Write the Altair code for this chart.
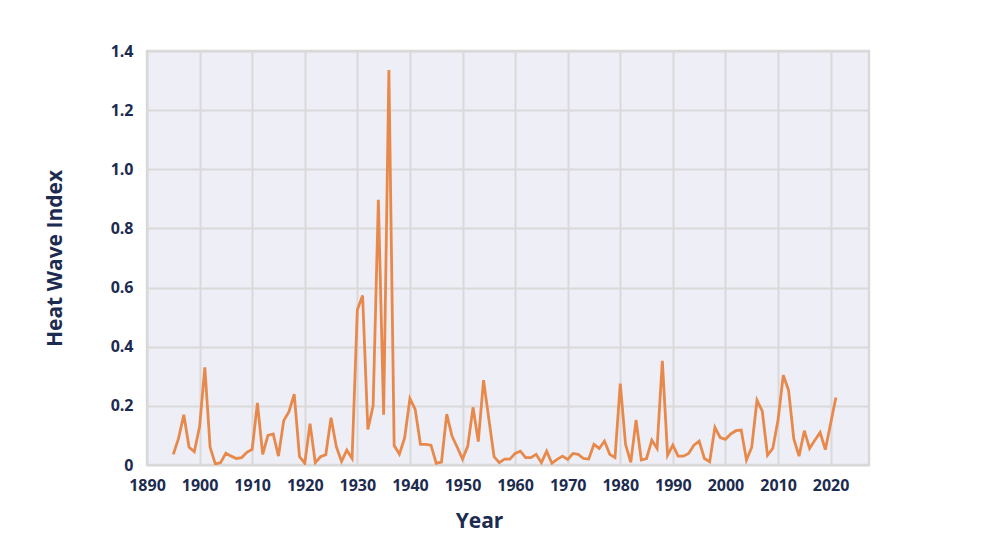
import altair as alt
import pandas as pd

years = list(range(1895, 2022))
heat_wave_index = [
    # 1895-1909
    0.036, 0.09, 0.17, 0.06, 0.045, 0.13, 0.33, 0.06, 0.003, 0.008,
    0.04, 0.03, 0.022, 0.025, 0.043,
    # 1910-1919
    0.053, 0.21, 0.036, 0.10, 0.105, 0.03, 0.15, 0.18, 0.24, 0.028,
    # 1920-1929
    0.006, 0.14, 0.008, 0.028, 0.035, 0.16, 0.062, 0.012, 0.05, 0.022,
    # 1930-1939
    0.525, 0.573, 0.12, 0.20, 0.897, 0.17, 1.336, 0.066, 0.037, 0.092,
    # 1940-1949
    0.225, 0.188, 0.07, 0.07, 0.067, 0.006, 0.01, 0.172, 0.098, 0.06,
    # 1950-1959
    0.02, 0.064, 0.195, 0.079, 0.287, 0.157, 0.028, 0.008, 0.02, 0.02,
    # 1960-1969
    0.039, 0.047, 0.025, 0.025, 0.036, 0.008, 0.047, 0.006, 0.019, 0.03,
    # 1970-1979
    0.019, 0.039, 0.036, 0.022, 0.02, 0.07, 0.056, 0.081, 0.036, 0.025,
    # 1980-1989
    0.275, 0.07, 0.009, 0.152, 0.017, 0.022, 0.084, 0.056, 0.352, 0.033,
    # 1990-1999
    0.067, 0.03, 0.03, 0.039, 0.067, 0.081, 0.022, 0.011, 0.127, 0.093,
    # 2000-2009
    0.087, 0.105, 0.116, 0.118, 0.017, 0.06, 0.219, 0.182, 0.033, 0.056,
    # 2010-2021
    0.152, 0.304, 0.253, 0.088, 0.03, 0.116, 0.056, 0.084, 0.11, 0.052,
    0.14, 0.228,
]

x_ticks = list(range(1890, 2030, 10))
y_ticks = [0, 0.2, 0.4, 0.6, 0.8, 1.0, 1.2, 1.4]

df = pd.DataFrame({"year": years, "index": heat_wave_index})

TEXT = "#1c2b4f"
GRID = "#d9d9d9"
FONT = "Open Sans"

chart = (
    alt.Chart(df)
    .mark_line(color="#e8894c", strokeWidth=2.8, clip=True)
    .encode(
        x=alt.X(
            "year:Q",
            scale=alt.Scale(domain=[1890, 2027.3], nice=False, zero=False),
            axis=alt.Axis(
                values=x_ticks,
                format="d",
                title="Year",
                titleX=332,
                titleY=62,
                titleAlign="center",
                titleBaseline="alphabetic",
                labelPadding=12,
                labelFlush=False,
            ),
        ),
        y=alt.Y(
            "index:Q",
            scale=alt.Scale(domain=[0, 1.4], nice=False),
            axis=alt.Axis(
                values=y_ticks,
                labelExpr="datum.value == 0 ? '0' : format(datum.value, '.1f')",
                title="Heat Wave Index",
                titleX=-92,
                titleY=207,
                titleAngle=270,
                titleAlign="center",
                titleBaseline="middle",
                labelPadding=14,
            ),
        ),
    )
    .properties(
        width=722,
        height=414,
        padding={"left": 139, "top": 43, "right": 10, "bottom": 90},
        autosize=alt.AutoSizeParams(type="none"),
        background="white",
    )
    .configure_view(fill="#eeeef6", stroke=GRID, strokeWidth=2.5)
    .configure_axis(
        domain=False,
        ticks=False,
        grid=True,
        gridColor=GRID,
        gridWidth=2,
        labelFont=FONT,
        labelFontSize=16,
        labelFontWeight="bold",
        labelColor=TEXT,
        titleFont=FONT,
        titleFontSize=21,
        titleFontWeight="bold",
        titleColor=TEXT,
    )
)

chart.save("out.html", embed_options={"renderer": "svg", "actions": False})
